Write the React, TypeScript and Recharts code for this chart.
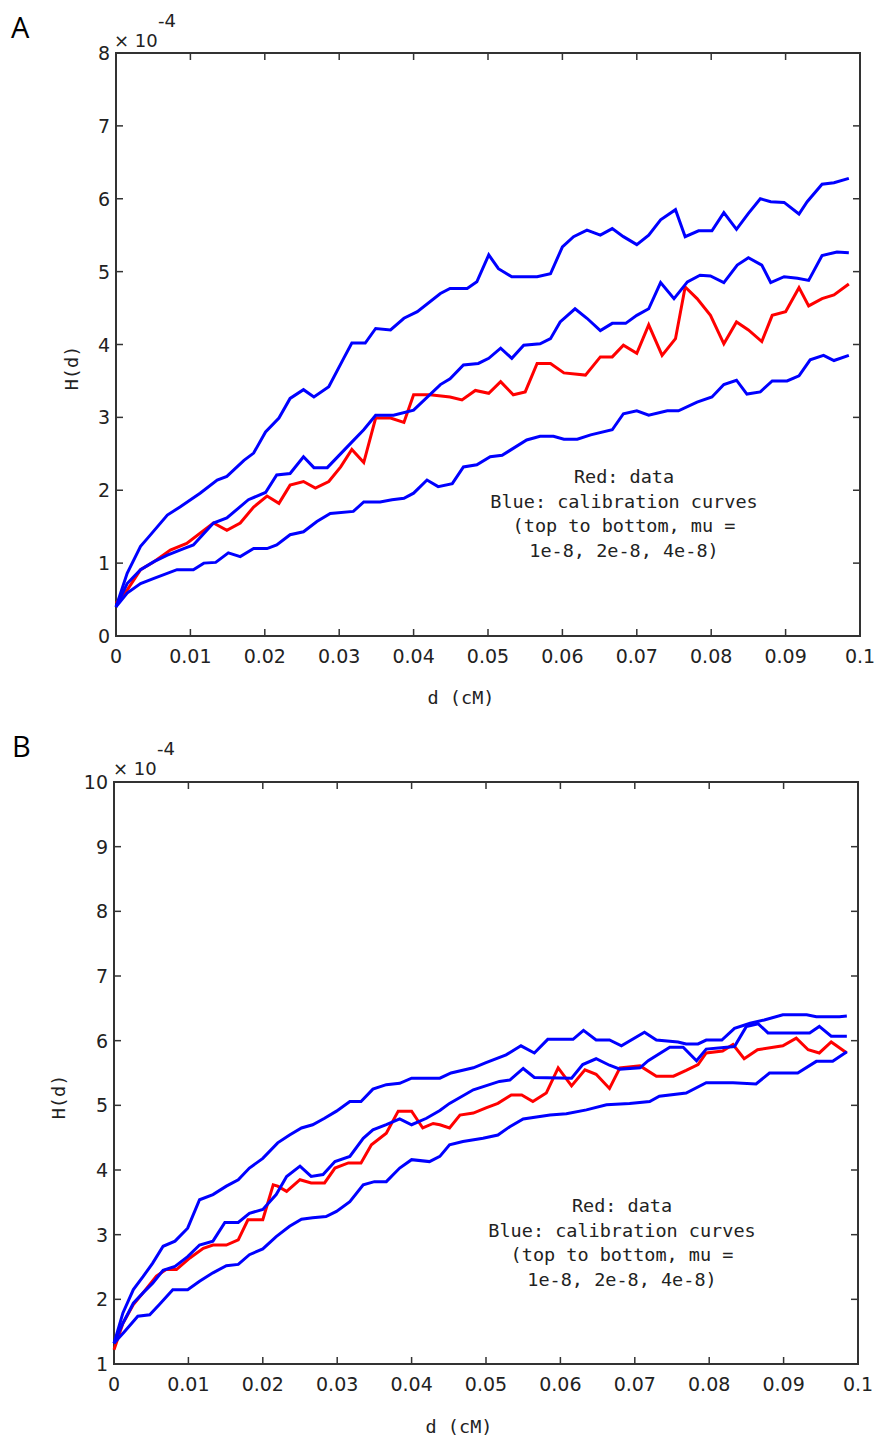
import React from 'react';
import { LineChart, Line, XAxis, YAxis, ReferenceArea } from 'recharts';

type Pt = [number, number];

// shared x ticks (d in cM)
const X_TICKS = [0, 0.01, 0.02, 0.03, 0.04, 0.05, 0.06, 0.07, 0.08, 0.09, 0.1];
const A_Y_TICKS = [0, 1, 2, 3, 4, 5, 6, 7, 8];
const B_Y_TICKS = [1, 2, 3, 4, 5, 6, 7, 8, 9, 10];

// Panel A, values in units of 1e-4
const A_RED: Pt[] = [
  [0, 0.45], [0.0015, 0.63], [0.0033, 0.91], [0.0051, 1.02], [0.0073, 1.18], [0.0095, 1.27],
  [0.0131, 1.55], [0.0149, 1.45], [0.0167, 1.55], [0.0185, 1.77], [0.0203, 1.92], [0.0219, 1.82],
  [0.0234, 2.07], [0.0252, 2.12], [0.0268, 2.03], [0.0286, 2.12], [0.0302, 2.32], [0.0317, 2.56],
  [0.0333, 2.38], [0.0349, 2.99], [0.0369, 2.99], [0.0387, 2.93], [0.04, 3.31], [0.0422, 3.31],
  [0.0449, 3.28], [0.0465, 3.24], [0.0483, 3.37], [0.0501, 3.33], [0.0517, 3.49], [0.0534, 3.31],
  [0.055, 3.35], [0.0566, 3.74], [0.0584, 3.74], [0.0602, 3.61], [0.0631, 3.58], [0.0651, 3.83],
  [0.0667, 3.83], [0.0682, 3.99], [0.07, 3.88], [0.0716, 4.27], [0.0734, 3.85], [0.0752, 4.08],
  [0.0765, 4.79], [0.0781, 4.63], [0.0799, 4.4], [0.0817, 4.01], [0.0834, 4.31], [0.085, 4.2],
  [0.0868, 4.04], [0.0882, 4.4], [0.09, 4.45], [0.0918, 4.78], [0.0931, 4.53], [0.0949, 4.63],
  [0.0965, 4.68], [0.0985, 4.83],
];

const A_MU1: Pt[] = [
  [0, 0.4], [0.0015, 0.86], [0.0033, 1.23], [0.0044, 1.36], [0.0069, 1.66], [0.0086, 1.77],
  [0.0113, 1.96], [0.0136, 2.14], [0.0149, 2.19], [0.0172, 2.41], [0.0185, 2.51], [0.0201, 2.8],
  [0.0219, 2.99], [0.0234, 3.26], [0.0252, 3.38], [0.0266, 3.28], [0.0286, 3.42], [0.0306, 3.81],
  [0.0317, 4.02], [0.0335, 4.02], [0.0349, 4.22], [0.0369, 4.2], [0.0387, 4.36], [0.0405, 4.45],
  [0.0436, 4.7], [0.0449, 4.77], [0.0472, 4.77], [0.0485, 4.86], [0.0501, 5.23], [0.0514, 5.04],
  [0.0532, 4.93], [0.0566, 4.93], [0.0584, 4.97], [0.06, 5.34], [0.0615, 5.48], [0.0633, 5.57],
  [0.0651, 5.5], [0.0667, 5.59], [0.0682, 5.48], [0.07, 5.37], [0.0716, 5.5], [0.0732, 5.71],
  [0.0752, 5.85], [0.0765, 5.48], [0.0783, 5.56], [0.0801, 5.56], [0.0817, 5.81], [0.0834, 5.58],
  [0.085, 5.8], [0.0866, 6.0], [0.088, 5.96], [0.0898, 5.95], [0.0918, 5.79], [0.0929, 5.96],
  [0.0949, 6.2], [0.0965, 6.22], [0.0985, 6.28],
];

const A_MU2: Pt[] = [
  [0, 0.4], [0.0015, 0.72], [0.0033, 0.91], [0.0051, 1.02], [0.0069, 1.11], [0.0091, 1.2],
  [0.0104, 1.25], [0.0131, 1.55], [0.0149, 1.62], [0.0178, 1.87], [0.0201, 1.97], [0.0216, 2.21],
  [0.0234, 2.23], [0.0252, 2.46], [0.0266, 2.31], [0.0284, 2.31], [0.0315, 2.64], [0.0333, 2.83],
  [0.0349, 3.03], [0.0373, 3.03], [0.04, 3.1], [0.0436, 3.45], [0.0449, 3.53], [0.0467, 3.72],
  [0.0487, 3.74], [0.0501, 3.81], [0.0517, 3.95], [0.0532, 3.81], [0.0548, 3.99], [0.057, 4.01],
  [0.0584, 4.08], [0.0597, 4.31], [0.0617, 4.49], [0.0633, 4.36], [0.0651, 4.19], [0.0667, 4.29],
  [0.0685, 4.29], [0.07, 4.4], [0.0716, 4.49], [0.0732, 4.85], [0.075, 4.63], [0.0768, 4.86],
  [0.0785, 4.95], [0.0799, 4.94], [0.0817, 4.85], [0.0835, 5.09], [0.085, 5.19], [0.0868, 5.09],
  [0.088, 4.85], [0.0898, 4.93], [0.0916, 4.91], [0.0931, 4.88], [0.0949, 5.22], [0.0969, 5.27],
  [0.0985, 5.26],
];

const A_MU4: Pt[] = [
  [0, 0.4], [0.0015, 0.59], [0.0033, 0.72], [0.0051, 0.79], [0.0082, 0.91], [0.0104, 0.91],
  [0.0118, 1.0], [0.0134, 1.01], [0.0151, 1.14], [0.0167, 1.09], [0.0185, 1.2], [0.0203, 1.2],
  [0.0216, 1.25], [0.0234, 1.39], [0.0252, 1.43], [0.027, 1.57], [0.0288, 1.68], [0.0319, 1.71],
  [0.0333, 1.84], [0.0355, 1.84], [0.0371, 1.87], [0.0387, 1.89], [0.04, 1.96], [0.0418, 2.14],
  [0.0433, 2.05], [0.0452, 2.09], [0.0467, 2.32], [0.0485, 2.35], [0.0503, 2.46], [0.0519, 2.48],
  [0.0552, 2.69], [0.057, 2.74], [0.0588, 2.74], [0.0602, 2.7], [0.062, 2.7], [0.0638, 2.76],
  [0.0667, 2.83], [0.0682, 3.05], [0.07, 3.09], [0.0716, 3.03], [0.0741, 3.09], [0.0756, 3.09],
  [0.0781, 3.21], [0.0801, 3.28], [0.0817, 3.45], [0.0834, 3.51], [0.0848, 3.32], [0.0866, 3.35],
  [0.0882, 3.5], [0.0902, 3.5], [0.0918, 3.57], [0.0933, 3.79], [0.0951, 3.85], [0.0965, 3.78],
  [0.0985, 3.85],
];

// Panel B
const B_RED: Pt[] = [
  [0, 1.22], [0.0012, 1.63], [0.0026, 1.92], [0.0039, 2.1], [0.0057, 2.36], [0.007, 2.46],
  [0.0084, 2.46], [0.0102, 2.64], [0.012, 2.79], [0.0133, 2.84], [0.0151, 2.84], [0.0167, 2.92],
  [0.018, 3.23], [0.02, 3.23], [0.0214, 3.77], [0.022, 3.75], [0.0232, 3.67], [0.025, 3.85],
  [0.0265, 3.8], [0.0283, 3.8], [0.0297, 4.03], [0.0315, 4.11], [0.0332, 4.11], [0.0346, 4.39],
  [0.0366, 4.57], [0.0382, 4.91], [0.04, 4.91], [0.0415, 4.65], [0.0429, 4.72], [0.0438, 4.7],
  [0.0451, 4.65], [0.0465, 4.85], [0.0483, 4.88], [0.05, 4.96], [0.0516, 5.03], [0.0534, 5.16],
  [0.0548, 5.16], [0.0563, 5.06], [0.0581, 5.19], [0.0597, 5.58], [0.0615, 5.3], [0.0633, 5.55],
  [0.0648, 5.48], [0.0666, 5.26], [0.068, 5.58], [0.0707, 5.61], [0.0729, 5.45], [0.0752, 5.45],
  [0.0769, 5.54], [0.0785, 5.63], [0.0796, 5.81], [0.0818, 5.84], [0.0832, 5.94], [0.0847, 5.72],
  [0.0865, 5.86], [0.0899, 5.92], [0.0917, 6.04], [0.0933, 5.86], [0.0948, 5.81], [0.0964, 5.98],
  [0.0985, 5.81],
];

const B_MU1: Pt[] = [
  [0, 1.32], [0.0012, 1.79], [0.0026, 2.15], [0.0039, 2.35], [0.0052, 2.56], [0.0066, 2.82],
  [0.0082, 2.9], [0.0099, 3.1], [0.0115, 3.54], [0.0133, 3.62], [0.0151, 3.75], [0.0167, 3.85],
  [0.0182, 4.03], [0.02, 4.18], [0.022, 4.42], [0.0236, 4.54], [0.0252, 4.65], [0.0267, 4.7],
  [0.0283, 4.8], [0.0299, 4.91], [0.0317, 5.06], [0.0332, 5.06], [0.0348, 5.25], [0.0366, 5.32],
  [0.0384, 5.34], [0.04, 5.42], [0.0438, 5.42], [0.0453, 5.5], [0.0483, 5.58], [0.05, 5.66],
  [0.0527, 5.78], [0.0547, 5.92], [0.0565, 5.81], [0.0583, 6.02], [0.0617, 6.02], [0.0631, 6.16],
  [0.0648, 6.01], [0.0666, 6.01], [0.0682, 5.92], [0.0713, 6.13], [0.0729, 6.01], [0.0758, 5.98],
  [0.0769, 5.95], [0.0785, 5.95], [0.0796, 6.01], [0.0817, 6.01], [0.0834, 6.19], [0.0855, 6.27],
  [0.0874, 6.32], [0.0899, 6.4], [0.0931, 6.4], [0.0944, 6.37], [0.0975, 6.37], [0.0985, 6.38],
];

const B_MU2: Pt[] = [
  [0, 1.32], [0.0012, 1.63], [0.0026, 1.94], [0.0039, 2.1], [0.0052, 2.25], [0.0066, 2.45],
  [0.0082, 2.51], [0.0099, 2.66], [0.0115, 2.84], [0.0133, 2.9], [0.0149, 3.19], [0.0167, 3.19],
  [0.0182, 3.33], [0.02, 3.39], [0.0218, 3.62], [0.0232, 3.9], [0.025, 4.06], [0.0265, 3.9],
  [0.0281, 3.93], [0.0297, 4.13], [0.0317, 4.21], [0.0335, 4.49], [0.0348, 4.62], [0.0366, 4.7],
  [0.0384, 4.79], [0.04, 4.7], [0.042, 4.8], [0.0438, 4.92], [0.0451, 5.03], [0.0483, 5.24],
  [0.0518, 5.37], [0.0532, 5.39], [0.055, 5.57], [0.0565, 5.43], [0.0615, 5.42], [0.063, 5.63],
  [0.0648, 5.72], [0.0666, 5.62], [0.068, 5.56], [0.0707, 5.58], [0.0718, 5.69], [0.0747, 5.9],
  [0.0765, 5.9], [0.0783, 5.69], [0.0796, 5.87], [0.0834, 5.91], [0.085, 6.22], [0.0866, 6.26],
  [0.0879, 6.12], [0.0935, 6.12], [0.0948, 6.22], [0.0964, 6.07], [0.0985, 6.07],
];

const B_MU4: Pt[] = [
  [0, 1.32], [0.0014, 1.5], [0.0032, 1.74], [0.0048, 1.76], [0.0061, 1.92], [0.0079, 2.15],
  [0.0099, 2.15], [0.0115, 2.28], [0.0133, 2.41], [0.0151, 2.52], [0.0167, 2.54], [0.0182, 2.69],
  [0.02, 2.78], [0.0218, 2.97], [0.0236, 3.13], [0.0252, 3.24], [0.0267, 3.26], [0.0285, 3.28],
  [0.0299, 3.36], [0.0317, 3.51], [0.0335, 3.77], [0.035, 3.82], [0.0366, 3.82], [0.0384, 4.03],
  [0.04, 4.16], [0.0424, 4.13], [0.0438, 4.21], [0.0451, 4.39], [0.0469, 4.44], [0.0496, 4.49],
  [0.0516, 4.54], [0.0532, 4.67], [0.055, 4.79], [0.0586, 4.85], [0.0608, 4.87], [0.0635, 4.93],
  [0.0662, 5.01], [0.0693, 5.03], [0.072, 5.06], [0.0733, 5.14], [0.0769, 5.19], [0.0796, 5.35],
  [0.0832, 5.35], [0.0863, 5.33], [0.0881, 5.5], [0.0919, 5.5], [0.0944, 5.68], [0.0966, 5.68],
  [0.0985, 5.83],
];

const NOTE_LINES = [
  'Red: data',
  'Blue: calibration curves',
  '(top to bottom, mu =',
  '1e-8, 2e-8, 4e-8)',
];

const toRows = (pts: Pt[]) => pts.map(([d, h]) => ({ d, h }));

const TICK_FONT = '"DejaVu Sans", sans-serif';
const MONO = '"DejaVu Sans Mono", monospace';
const FRAME = '#333';
const TEXT = '#222';
const TICK_LEN = 7;
const WIDTH = 878;

interface PanelProps {
  top: number;
  height: number;
  plotTop: number;
  plotBottom: number;
  plotLeft: number;
  plotRight: number;
  yDomain: [number, number];
  yTicks: number[];
  red: Pt[];
  blues: Pt[][];
}

const Panel: React.FC<PanelProps> = ({ top, height, plotTop, plotBottom, plotLeft, plotRight, yDomain, yTicks, red, blues }) => {
  const XTick = (props: any) => {
    const { x, payload } = props;
    return (
      <g>
        <line x1={x} x2={x} y1={plotBottom} y2={plotBottom - TICK_LEN} stroke={FRAME} strokeWidth={1.5} />
        <line x1={x} x2={x} y1={plotTop} y2={plotTop + TICK_LEN} stroke={FRAME} strokeWidth={1.5} />
        <text x={x} y={plotBottom + 27} textAnchor="middle" fontFamily={TICK_FONT} fontSize={19} fill={TEXT}>
          {String(payload.value)}
        </text>
      </g>
    );
  };

  const YTick = (props: any) => {
    const { y, payload } = props;
    return (
      <g>
        <line x1={plotLeft} x2={plotLeft + TICK_LEN} y1={y} y2={y} stroke={FRAME} strokeWidth={1.5} />
        <line x1={plotRight} x2={plotRight - TICK_LEN} y1={y} y2={y} stroke={FRAME} strokeWidth={1.5} />
        <text x={plotLeft - 6} y={y + 7} textAnchor="end" fontFamily={TICK_FONT} fontSize={19} fill={TEXT}>
          {String(payload.value)}
        </text>
      </g>
    );
  };

  return (
    <div style={{ position: 'absolute', left: 0, top }}>
      <LineChart
        width={WIDTH}
        height={height}
        margin={{ top: plotTop, right: WIDTH - plotRight, bottom: 0, left: 0 }}
      >
        <XAxis
          dataKey="d"
          type="number"
          domain={[0, 0.1]}
          ticks={X_TICKS}
          interval={0}
          axisLine={false}
          tickLine={false}
          tickSize={0}
          height={height - plotBottom}
          tick={XTick}
        />
        <YAxis
          type="number"
          domain={yDomain}
          ticks={yTicks}
          interval={0}
          axisLine={false}
          tickLine={false}
          tickSize={0}
          width={plotLeft}
          tick={YTick}
        />
        <Line
          data={toRows(red)}
          dataKey="h"
          type="linear"
          stroke="#ff0000"
          strokeWidth={3}
          dot={false}
          isAnimationActive={false}
        />
        {blues.map((b, i) => (
          <Line
            key={i}
            data={toRows(b)}
            dataKey="h"
            type="linear"
            stroke="#0000ff"
            strokeWidth={3}
            dot={false}
            isAnimationActive={false}
          />
        ))}
        <ReferenceArea
          x1={0}
          x2={0.1}
          y1={yDomain[0]}
          y2={yDomain[1]}
          fill="none"
          fillOpacity={0}
          stroke={FRAME}
          strokeWidth={2}
          ifOverflow="visible"
        />
      </LineChart>
    </div>
  );
};

const Note: React.FC<{ cx: number; y: number }> = ({ cx, y }) => (
  <text fontFamily={MONO} fontSize={18.5} fill={TEXT} textAnchor="middle">
    {NOTE_LINES.map((line, i) => (
      <tspan key={i} x={cx} y={y + i * 24.7}>{line}</tspan>
    ))}
  </text>
);

const Overlay: React.FC = () => (
  <svg width={WIDTH} height={1439} style={{ position: 'absolute', left: 0, top: 0, pointerEvents: 'none' }}>
    {/* panel letters */}
    <text x={11} y={38} fontFamily='"Open Sans", "Liberation Sans", sans-serif' fontSize={29} fill="#000">A</text>
    <text x={12} y={757} fontFamily='"Open Sans", "Liberation Sans", sans-serif' fontSize={29} fill="#000">B</text>

    {/* exponent labels */}
    <text x={114} y={47} fontFamily={TICK_FONT} fontSize={18} fill={TEXT}>× 10</text>
    <text x={158} y={27} fontFamily={TICK_FONT} fontSize={18} fill={TEXT}>-4</text>
    <text x={113} y={775} fontFamily={TICK_FONT} fontSize={18} fill={TEXT}>× 10</text>
    <text x={157} y={755} fontFamily={TICK_FONT} fontSize={18} fill={TEXT}>-4</text>

    {/* axis titles */}
    <text x={71} y={368} transform="rotate(-90 71 368)" textAnchor="middle" dominantBaseline="central"
      fontFamily={MONO} fontSize={18.5} fill={TEXT}>H(d)</text>
    <text x={461} y={704} textAnchor="middle" fontFamily={MONO} fontSize={18.5} fill={TEXT}>d (cM)</text>
    <text x={58} y={1097} transform="rotate(-90 58 1097)" textAnchor="middle" dominantBaseline="central"
      fontFamily={MONO} fontSize={18.5} fill={TEXT}>H(d)</text>
    <text x={459} y={1433} textAnchor="middle" fontFamily={MONO} fontSize={18.5} fill={TEXT}>d (cM)</text>

    <Note cx={624} y={483} />
    <Note cx={622} y={1212} />
  </svg>
);

export default function App() {
  return (
    <div style={{ position: 'absolute', left: 0, top: 0, width: WIDTH, height: 1439, background: '#fff' }}>
      <Panel
        top={0}
        height={720}
        plotTop={53}
        plotBottom={636}
        plotLeft={116}
        plotRight={860}
        yDomain={[0, 8]}
        yTicks={A_Y_TICKS}
        red={A_RED}
        blues={[A_MU1, A_MU2, A_MU4]}
      />
      <Panel
        top={730}
        height={709}
        plotTop={52}
        plotBottom={634}
        plotLeft={114}
        plotRight={858}
        yDomain={[1, 10]}
        yTicks={B_Y_TICKS}
        red={B_RED}
        blues={[B_MU1, B_MU2, B_MU4]}
      />
      <Overlay />
    </div>
  );
}
